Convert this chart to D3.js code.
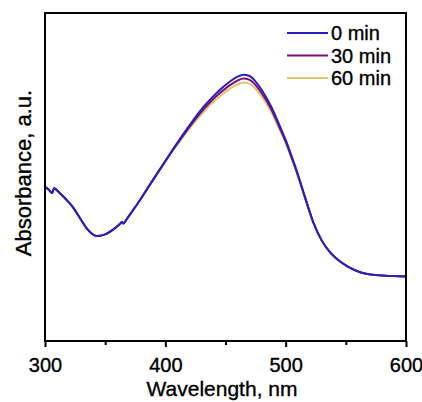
<!DOCTYPE html>
<html>
<head>
<meta charset="utf-8">
<script src="https://cdn.jsdelivr.net/npm/d3@7"></script>
<style>
    body { margin: 0; background: #fff; }
    svg text { font-family: Arial, "Liberation Sans", sans-serif; fill: #000; stroke: #000; stroke-width: 0.35px; }
</style>
</head>
<body>
<div id="chart"></div>
<script>
// wavelength grid, nm
const wavelengths = [300, 303, 306, 307.5, 312, 318, 323, 329, 335, 343, 350, 356, 362, 364, 365, 368, 373, 379, 386, 394,
    400, 407, 414, 421, 428, 435, 442, 448, 454, 460, 465, 470, 475, 480, 487.5, 496, 500, 505, 510, 516,
    523, 530, 537.5, 545, 552, 562.5, 572, 580, 590, 600];

// absorbance (a.u.)
const abs0 = [0.470, 0.462, 0.451, 0.466, 0.452, 0.430, 0.409, 0.375, 0.342, 0.320, 0.325, 0.338, 0.356, 0.363, 0.358, 0.372, 0.398, 0.430, 0.470, 0.515,
    0.549, 0.588, 0.626, 0.662, 0.697, 0.727, 0.754, 0.774, 0.792, 0.806, 0.812, 0.808, 0.791, 0.766, 0.718, 0.648, 0.613, 0.563, 0.510, 0.440,
    0.362, 0.306, 0.268, 0.243, 0.226, 0.209, 0.202, 0.200, 0.198, 0.197];
const abs30 = [0.470, 0.462, 0.451, 0.466, 0.452, 0.430, 0.409, 0.375, 0.342, 0.320, 0.325, 0.338, 0.356, 0.363, 0.358, 0.372, 0.398, 0.430, 0.470, 0.515,
    0.548, 0.586, 0.622, 0.657, 0.690, 0.719, 0.745, 0.764, 0.781, 0.794, 0.800, 0.796, 0.780, 0.756, 0.710, 0.642, 0.608, 0.559, 0.507, 0.438,
    0.361, 0.306, 0.268, 0.243, 0.226, 0.209, 0.202, 0.200, 0.198, 0.197];
const abs60 = [0.470, 0.462, 0.451, 0.466, 0.452, 0.430, 0.409, 0.375, 0.342, 0.320, 0.325, 0.338, 0.356, 0.363, 0.358, 0.372, 0.398, 0.430, 0.470, 0.514,
    0.547, 0.584, 0.618, 0.652, 0.683, 0.711, 0.736, 0.754, 0.770, 0.782, 0.788, 0.784, 0.769, 0.746, 0.702, 0.636, 0.603, 0.555, 0.504, 0.436,
    0.360, 0.306, 0.268, 0.243, 0.226, 0.209, 0.202, 0.200, 0.198, 0.197];

const seriesNames = ["0 min", "30 min", "60 min"];
const seriesColors = ["#2a1fc0", "#7d0f6e", "#e6c46c"];
const xTicks = [300, 400, 500, 600];
const xMinorTicks = [350, 450, 550];

const series = [abs0, abs30, abs60].map((vals, i) => ({
    name: seriesNames[i],
    color: seriesColors[i],
    values: wavelengths.map((w, j) => ({w: w, a: vals[j]}))
}));

const width = 422, height = 402;
const margin = {top: 13, right: 16, bottom: 61, left: 45};
const innerW = width - margin.left - margin.right;
const innerH = height - margin.top - margin.bottom;

const svg = d3.select("#chart").append("svg")
    .attr("width", width)
    .attr("height", height);

const g = svg.append("g")
    .attr("transform", "translate(" + margin.left + "," + margin.top + ")");

const x = d3.scaleLinear().domain([300, 600]).range([0, innerW]);
const y = d3.scaleLinear().domain([0, 1]).range([innerH, 0]);

const line = d3.line()
    .x(d => x(d.w))
    .y(d => y(d.a))
    .curve(d3.curveMonotoneX);

// draw 60 min first so 0 min sits on top
series.slice().reverse().forEach(s => {
    g.append("path")
        .datum(s.values)
        .attr("fill", "none")
        .attr("stroke", s.color)
        .attr("stroke-width", 2)
        .attr("d", line);
});

// frame
g.append("rect")
    .attr("width", innerW)
    .attr("height", innerH)
    .attr("fill", "none")
    .attr("stroke", "#000")
    .attr("stroke-width", 2);

// bottom axis, major + minor ticks
const xAxis = d3.axisBottom(x)
    .tickValues(xTicks)
    .tickSize(6)
    .tickPadding(11)
    .tickFormat(d3.format("d"));

const xg = g.append("g")
    .attr("transform", "translate(0," + innerH + ")")
    .call(xAxis);
xg.select(".domain").remove();
xg.selectAll("line").attr("stroke-width", 2);
xg.selectAll("text").style("font-size", "20px").attr("font-family", null).attr("fill", null);

const xm = g.append("g")
    .attr("transform", "translate(0," + innerH + ")")
    .call(d3.axisBottom(x).tickValues(xMinorTicks).tickSize(4).tickFormat(""));
xm.select(".domain").remove();
xm.selectAll("line").attr("stroke-width", 2);

// axis titles
svg.append("text")
    .attr("x", 222)
    .attr("y", 396)
    .attr("text-anchor", "middle")
    .style("font-size", "21px")
    .text("Wavelength, nm");

svg.append("text")
    .attr("transform", "translate(31,173) rotate(-90)")
    .attr("text-anchor", "middle")
    .style("font-size", "22px")
    .text("Absorbance, a.u.");

// legend
const legend = svg.append("g");
series.forEach((s, i) => {
    const ly = 33 + i * 22.5;
    legend.append("line")
        .attr("x1", 287).attr("x2", 328)
        .attr("y1", ly).attr("y2", ly)
        .attr("stroke", s.color)
        .attr("stroke-width", 2);
    legend.append("text")
        .attr("x", 331)
        .attr("y", ly)
        .attr("dy", "0.36em")
        .style("font-size", "20px")
        .text(s.name);
});
</script>
</body>
</html>
